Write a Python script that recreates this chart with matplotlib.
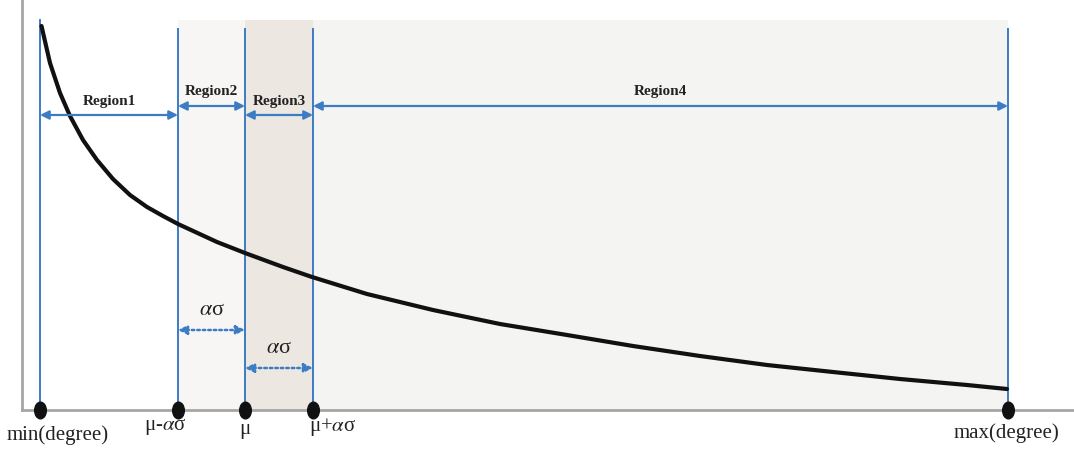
import matplotlib.pyplot as plt
from matplotlib.patches import FancyArrowPatch
from matplotlib.path import Path
from matplotlib.transforms import Affine2D

plt.rcParams['font.family'] = ['Liberation Serif', 'DejaVu Serif']
plt.rcParams['mathtext.fontset'] = 'stix'

# boundaries on the degree axis (drawing units)
bounds = [40, 178, 245, 313, 1008]
tick_labels = ['min(degree)', 'μ-$\\alpha$σ', 'μ', 'μ+$\\alpha$σ', 'max(degree)']
tick_offsets = [18, -13, 0, 20, -2]
tick_y = [435, 427, 430, 427, 433]

# decaying degree curve
curve_x = [41.5, 50, 60, 70, 83, 97, 113, 130, 147, 163, 178, 217, 245, 283, 312,
           367, 433, 500, 567, 633, 700, 767, 833, 900, 967, 1007]
curve_y = [27, 64, 94, 117, 141, 161, 180, 196, 208, 217, 225, 243, 254, 268, 278,
           295, 311, 325, 336, 347, 357, 366, 373, 380, 386, 390]

region_names = ['Region1', 'Region2', 'Region3', 'Region4']
region_arrow_y = [116, 107, 116, 107]
region_text_y = [102, 92, 102, 91]
region_colors = [None, '#f7f6f4', '#ece7e1', '#f4f4f2']

sigma_arrow_y = [331, 369]
sigma_text_y = [311, 349]

blue = '#3b7cc4'
axis_y = 411
top = 21

fig = plt.figure(figsize=(10.74, 4.52), dpi=100)
ax = fig.add_axes([0, 0, 1, 1])
ax.set_xlim(0, 1074)
ax.set_ylim(452, 0)
ax.axis('off')

# shaded region backgrounds
for i in range(4):
    if region_colors[i]:
        ax.fill_between([bounds[i], bounds[i + 1]], top, axis_y,
                        color=region_colors[i], lw=0, zorder=0)

# axes lines
ax.plot([22, 22], [0, axis_y], color='#a6a6a6', lw=2, zorder=1)
ax.plot([22, 1074], [axis_y, axis_y], color='#a6a6a6', lw=2, zorder=1)

# vertical boundary lines
for i, b in enumerate(bounds):
    y0 = top if i == 0 else 30
    ax.plot([b, b], [y0, axis_y], color=blue, lw=1.4, zorder=2)

# curve
ax.plot(curve_x, curve_y, color='#111111', lw=3, solid_capstyle='round',
        solid_joinstyle='round', zorder=3)

# region arrows and labels
for i, name in enumerate(region_names):
    a = FancyArrowPatch((bounds[i], region_arrow_y[i]), (bounds[i + 1], region_arrow_y[i]),
                        arrowstyle='<|-|>', mutation_scale=13, color=blue, lw=1.6,
                        shrinkA=0, shrinkB=0, zorder=4)
    ax.add_patch(a)
    ax.text((bounds[i] + bounds[i + 1]) / 2, region_text_y[i], name, fontsize=11,
            fontweight='bold', ha='center', va='center', color='#222222', zorder=5)

# alpha-sigma dotted arrows
for k in range(2):
    x0, x1 = bounds[1 + k], bounds[2 + k]
    a = FancyArrowPatch((x0, sigma_arrow_y[k]), (x1, sigma_arrow_y[k]),
                        arrowstyle='<|-|>', mutation_scale=13, color=blue, lw=1.8,
                        linestyle=(0, (1, 1.2)), shrinkA=0, shrinkB=0, zorder=4)
    ax.add_patch(a)
    ax.text((x0 + x1) / 2, sigma_text_y[k], '$\\alpha$σ', fontsize=16,
            ha='center', va='center', color='#222222', zorder=5)

# boundary markers
ellipse = Path.unit_circle().transformed(Affine2D().scale(0.7, 1.0))
ax.plot(bounds, [axis_y] * len(bounds), linestyle='none', marker=ellipse,
        markersize=12, color='#111111', zorder=6)

for b, lab, off, ty in zip(bounds, tick_labels, tick_offsets, tick_y):
    ax.text(b + off, ty, lab, fontsize=15, ha='center', va='center', color='#222222')

fig.savefig('out.png', dpi=100)
